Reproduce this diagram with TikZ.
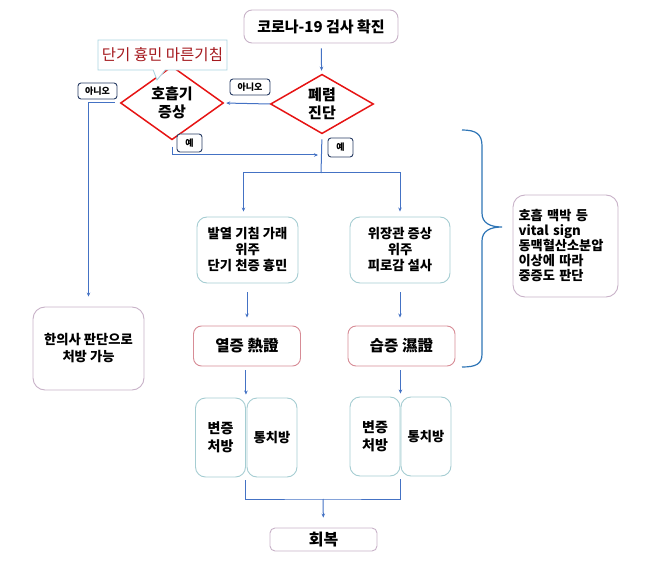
\documentclass[tikz,border=0pt]{standalone}
\usepackage{fontspec}
\setmainfont{Noto Sans CJK KR}
\usetikzlibrary{shapes.geometric,shapes.callouts,arrows.meta}
\definecolor{lineblue}{RGB}{68,114,196}
\definecolor{bracecol}{RGB}{46,117,182}
\definecolor{dred}{RGB}{230,20,20}
\definecolor{navy}{RGB}{40,60,100}
\definecolor{lav}{RGB}{200,178,200}
\definecolor{tealb}{RGB}{165,205,210}
\definecolor{pinkr}{RGB}{215,140,150}
\definecolor{callb}{RGB}{170,212,225}
\definecolor{txtred}{RGB}{165,25,30}
\tikzset{
  box/.style={draw, line width=0.9pt, rounded corners=8pt, fill=white, align=center, inner sep=1pt, font=\bfseries\fontsize{13.3}{16}\selectfont},
  dia/.style={draw=dred, line width=1.5pt, diamond, inner sep=0pt, minimum width=103pt, minimum height=52pt, align=center, font=\bfseries\fontsize{15}{18}\selectfont},
  lbl/.style={draw=navy, line width=0.9pt, rounded corners=3pt, fill=white, inner sep=0pt, font=\bfseries\fontsize{9}{10}\selectfont},
  conn/.style={draw=lineblue, line width=1pt},
  arr/.style={conn, -{Stealth[length=4pt,width=3.5pt]}},
}
\begin{document}
\begin{tikzpicture}[x=1pt,y=-1pt]
\useasboundingbox (0,0) rectangle (650,561);
% top
\node[box, draw=lav, minimum width=154pt, minimum height=33pt, font=\bfseries\fontsize{15}{16}\selectfont] (top) at (321,26.5) {코로나-19 검사 확진};
% diamonds
\node[dia] (pneu) at (322,104) {폐렴\\진단};
\node[dia] (resp) at (172,103) {호흡기\\증상};
% callout
\node[rectangle callout, draw=callb, line width=0.9pt, fill=white, minimum width=129pt, minimum height=30pt, inner sep=0pt,
      callout absolute pointer={(157,80)}, callout pointer width=12pt, text=txtred,
      font=\fontsize{15.5}{16}\selectfont] (call) at (162.5,55) {단기 흉민 마른기침};
% labels
\node[lbl, minimum width=40pt, minimum height=16pt] (no1) at (250,87) {아니오};
\node[lbl, minimum width=39pt, minimum height=16pt] (no2) at (97.5,91) {아니오};
\node[lbl, minimum width=25pt, minimum height=18pt] (yes1) at (189.5,143) {예};
\node[lbl, minimum width=25pt, minimum height=19pt] (yes2) at (340.5,147.5) {예};
% symptom boxes
\node[box, draw=tealb, rounded corners=10pt, minimum width=101pt, minimum height=66pt] (sym1) at (247.5,250) {발열 기침 가래\\위주\\단기 천증 흉민};
\node[box, draw=tealb, rounded corners=10pt, minimum width=100pt, minimum height=66pt] (sym2) at (400,250) {위장관 증상\\위주\\피로감 설사};
% heat / damp
\node[box, draw=pinkr, minimum width=107pt, minimum height=40pt, font=\bfseries\fontsize{15.5}{16}\selectfont] (heat) at (247,346) {열증 熱證};
\node[box, draw=pinkr, minimum width=107pt, minimum height=40pt, font=\bfseries\fontsize{15.5}{16}\selectfont] (damp) at (401.5,346) {습증 濕證};
% pairs
\node[box, draw=tealb, rounded corners=10pt, minimum width=50pt, minimum height=79pt, font=\bfseries\fontsize{14}{18}\selectfont] (b1) at (220.5,437.5) {변증\\처방};
\node[box, draw=tealb, rounded corners=10pt, minimum width=50pt, minimum height=79pt] (t1) at (272,437.5) {통치방};
\node[box, draw=tealb, rounded corners=10pt, minimum width=50pt, minimum height=79pt, font=\bfseries\fontsize{14}{18}\selectfont] (b2) at (375,436.5) {변증\\처방};
\node[box, draw=tealb, rounded corners=10pt, minimum width=50pt, minimum height=79pt] (t2) at (426,436.5) {통치방};
% recovery
\node[box, draw=lav, rounded corners=5pt, minimum width=107pt, minimum height=23pt, font=\bfseries\fontsize{16}{16}\selectfont] (rec) at (323.5,539.5) {회복};
% hani
\node[box, draw=lav, rounded corners=12pt, minimum width=111pt, minimum height=83pt, font=\bfseries\fontsize{13.3}{17}\selectfont] (hani) at (88.5,348.5) {한의사 판단으로\\처방 가능};
% vital box
\node[box, draw=lav, rounded corners=12pt, minimum width=105pt, minimum height=102pt, align=left, text width=94pt, inner sep=0pt,
      font=\bfseries\fontsize{13.2}{15}\selectfont] (vit) at (565.5,246) {호흡 맥박 등\\vital sign\\동맥혈산소분압\\이상에 따라\\중증도 판단};
% coordinates
\coordinate (join) at (321,155);
\coordinate (split) at (321,173);
\coordinate (mid) at (323,499);
% connectors
\draw[arr, shorten <=5pt, shorten >=3pt] (top) -- (pneu);
\draw[arr, shorten <=0pt, shorten >=2pt] (pneu.west) -- (resp.east);
\draw[arr, shorten <=5pt, shorten >=10pt] (resp.west) -| (hani.north);
\draw[arr, shorten <=6pt, shorten >=3pt] (resp.south) |- (join);
\draw[conn, shorten <=5pt] (pneu.south) -- (split);
\draw[arr, shorten >=5pt] (split) -| ([xshift=-4pt]sym1.north);
\draw[arr, shorten >=5pt] (split) -| (sym2.north);
\draw[arr, shorten <=9pt, shorten >=8pt] (sym1.south -| heat.south) -- (heat.south |- heat.north);
\draw[arr, shorten <=9pt, shorten >=8pt] (sym2.south) -- (sym2.south |- damp.north);
\draw[arr, shorten <=4pt, shorten >=3pt] (heat.south -| b1.north east) -- (b1.north east);
\draw[arr, shorten <=4pt, shorten >=3pt] (damp.south -| b2.north east) -- (b2.north east);
\draw[conn, shorten <=3pt, shorten >=3pt] (b1.south east) |- (mid) -| (b2.south east);
\draw[arr, shorten >=10pt] (mid) -- (rec.north);
% brace
\draw[bracecol, line width=1.2pt] (462,130) .. controls (476,130) and (482,134) .. (482,146) -- (482,213)
  .. controls (482,223) and (490,227) .. (502,227) .. controls (490,227) and (482,231) .. (482,241)
  -- (482,354) .. controls (482,364) and (476,367) .. (462,367);
\end{tikzpicture}
\end{document}
